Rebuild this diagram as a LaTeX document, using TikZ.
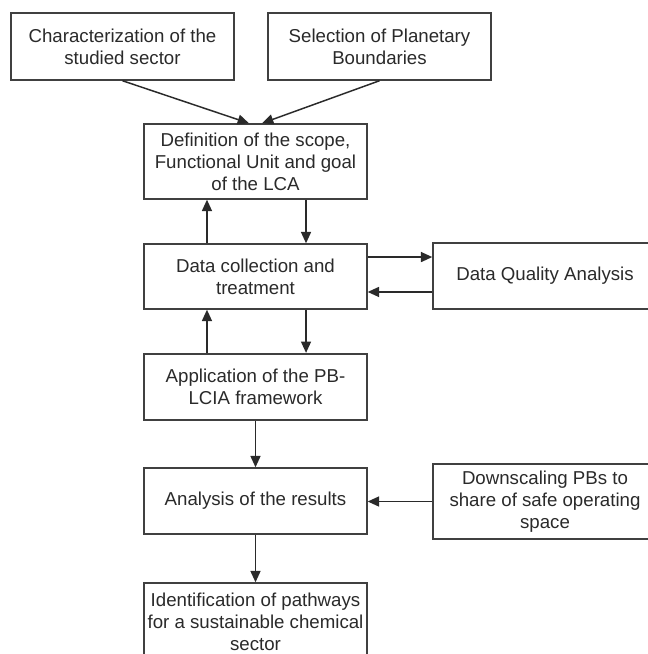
\documentclass[tikz,border=0pt]{standalone}
\usepackage{fontspec}
\setmainfont{Liberation Sans}
\usetikzlibrary{arrows.meta}
\definecolor{bordc}{HTML}{404040}
\definecolor{txtc}{HTML}{2A2A2A}
\tikzset{
  box/.style={draw=bordc, line width=1.1pt, fill=white, align=center, inner sep=0pt,
    font=\fontsize{14pt}{16.4pt}\selectfont, text=txtc},
  thickbox/.style={box, line width=1.7pt},
  arr/.style={draw=txtc, line width=1.1pt, -{Triangle[length=8.5pt,width=7.5pt]}},
  link/.style={draw=txtc, line width=1.1pt}
}
\begin{document}
\begin{tikzpicture}[x=0.75pt,y=-0.75pt]
\clip (0,0) rectangle (648,654);
\fill[white] (0,0) rectangle (648,654);
% nodes
\node[box, minimum width=167.25pt, minimum height=50.25pt] (char) at (122.5,46.5) {Characterization of the\\studied sector};
\node[box, minimum width=167.25pt, minimum height=50.25pt] (sel) at (379.5,46.5) {Selection of Planetary\\Boundaries};
\node[box, minimum width=167.25pt, minimum height=56.25pt] (def) at (255.5,161.5) {Definition of the scope,\\Functional Unit and goal\\of the LCA};
\node[box, minimum width=167.25pt, minimum height=48.75pt] (dc) at (255.5,276.5) {Data collection and\\treatment};
\node[box, minimum width=168pt, minimum height=49.5pt] (dq) at (545,276) {Data Quality Analysis};
\node[thickbox, minimum width=167.25pt, minimum height=49.5pt] (app) at (255.5,387) {Application of the PB-\\LCIA framework};
\node[box, minimum width=167.25pt, minimum height=49.5pt] (an) at (255.5,501) {Analysis of the results};
\node[box, minimum width=168pt, minimum height=56.25pt] (ds) at (545,501.5) {Downscaling PBs to\\share of safe operating\\space};
\node[box, minimum width=167.25pt, minimum height=57.75pt] (id) at (255.5,621.5) {Identification of pathways\\for a sustainable chemical\\sector};
% connectors
\draw[arr] (char.south) -- ([xshift=-4.9pt]def.north);
\draw[arr] (sel.south) -- ([xshift=4.9pt]def.north);
\draw[arr] ([xshift=-36.4pt]dc.north) -- ([xshift=-36.4pt]def.south);
\draw[arr] ([xshift=37.9pt]def.south) -- ([xshift=37.9pt]dc.north);
\draw[arr] ([yshift=14.6pt]dc.east) -- ([yshift=14.6pt]dc.east -| dq.west);
\draw[arr] ([yshift=-11.6pt]dc.east -| dq.west) -- ([yshift=-11.6pt]dc.east);
\draw[arr] ([xshift=-36.4pt]app.north) -- ([xshift=-36.4pt]dc.south);
\draw[arr] ([xshift=37.9pt]dc.south) -- ([xshift=37.9pt]app.north);
\draw[arr] (app.south) -- (an.north);
\draw[arr] (ds.west) -- (ds.west -| an.east);
\draw[arr] (an.south) -- (id.north);
\end{tikzpicture}
\end{document}
